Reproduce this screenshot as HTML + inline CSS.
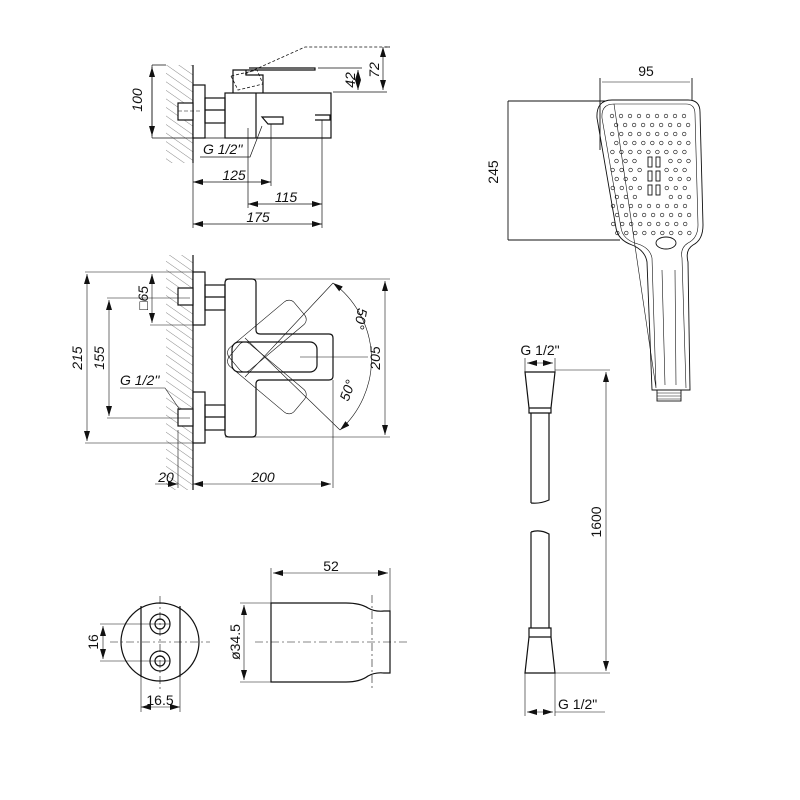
<!DOCTYPE html>
<html><head><meta charset="utf-8"><style>
html,body{margin:0;padding:0;background:#fff}
svg{display:block}
text{font-family:"Liberation Sans",sans-serif;fill:#111}
.it{font-style:italic}
</style></head><body>
<svg id="s" width="800" height="800" viewBox="0 0 800 800" xmlns="http://www.w3.org/2000/svg">
<defs>
<pattern id="h" patternUnits="userSpaceOnUse" width="7" height="7" patternTransform="rotate(-55)">
<line x1="0" y1="0" x2="0" y2="7" stroke="#555" stroke-width="0.7"/></pattern>
<marker id="a" markerWidth="10" markerHeight="6" refX="10" refY="3" orient="auto-start-reverse" markerUnits="userSpaceOnUse"><path d="M0,0 L10,3 L0,6z" fill="#111"/></marker>
</defs>
<g fill="none" stroke="#111" stroke-width="1.2">
<!-- TOP VIEW -->
<rect x="166" y="65" width="27" height="98" fill="url(#h)" stroke="none"/>
<line x1="193" y1="65" x2="193" y2="163"/>
<rect x="193" y="85" width="12" height="53" fill="#fff"/>
<rect x="178" y="103" width="15" height="17" fill="#fff"/>
<line x1="178" y1="111" x2="200" y2="111" stroke-dasharray="4 2" stroke-width="0.6"/>
<rect x="205" y="98" width="20" height="25"/>
<line x1="205" y1="110" x2="225" y2="110"/>
<rect x="225" y="93" width="106" height="45"/>
<line x1="256" y1="93" x2="256" y2="138"/>
<path d="M233,93 V70 H315 V68 H258 L249,68 M246,70 V75 H263 V93"/>
<path d="M231,76 L238,90 L263,84 L257,70 Z M245,74 L305,47 L390,47" stroke-dasharray="3 2" stroke-width="0.8"/>
<path d="M262,117 H283 V124 H268 Z M315,115 H330 V120 H315"/>
<g stroke-width="0.7">
<path d="M152,65 H166 M152,138 H225 M152,65 V138"/>
<line x1="152" y1="67" x2="152" y2="136" marker-start="url(#a)" marker-end="url(#a)"/>
<path d="M318,68 H362 M333,92 H387 M390,47 H385"/>
<line x1="358" y1="70" x2="358" y2="90" marker-start="url(#a)" marker-end="url(#a)"/>
<line x1="383" y1="47" x2="383" y2="90" marker-start="url(#a)" marker-end="url(#a)"/>
<path d="M193,138 V228 M271,124 V186 M248,128 V208 M322,120 V228"/>
<line x1="193" y1="182" x2="271" y2="182" marker-start="url(#a)" marker-end="url(#a)"/>
<line x1="248" y1="204" x2="322" y2="204" marker-start="url(#a)" marker-end="url(#a)"/>
<line x1="193" y1="224" x2="322" y2="224" marker-start="url(#a)" marker-end="url(#a)"/>
<path d="M200,157 H250 L262,126"/>
</g>
<!-- FRONT VIEW -->
<rect x="166" y="255" width="27" height="235" fill="url(#h)" stroke="none"/>
<line x1="193" y1="255" x2="193" y2="490"/>
<rect x="193" y="272" width="12" height="53" fill="#fff"/>
<rect x="178" y="288" width="15" height="17" fill="#fff"/>
<rect x="205" y="285" width="20" height="25"/><line x1="205" y1="297" x2="225" y2="297"/>
<rect x="193" y="392" width="12" height="51" fill="#fff"/>
<rect x="178" y="409" width="15" height="17" fill="#fff"/>
<rect x="205" y="405" width="20" height="25"/><line x1="205" y1="417" x2="225" y2="417"/>
<path d="M229,279 H252 Q256,279 256,283 V330 Q256,334 260,334 H329 Q333,334 333,338 V376 Q333,380 329,380 H260 Q256,380 256,384 V433 Q256,437 252,437 H229 Q225,437 225,433 V283 Q225,279 229,279 Z"/>
<rect x="232" y="342" width="85" height="30" rx="7"/>
<g stroke-width="0.6">
<rect x="232" y="342" width="85" height="30" rx="7" transform="rotate(-40 242 357)"/>
<rect x="232" y="342" width="85" height="30" rx="7" transform="rotate(40 242 357)"/>
<path d="M333,283 L245,377 M340,430 L245,338 M300,357 H368"/>
<path d="M333,283 A95,95 0 0 1 340,430" marker-start="url(#a)" marker-end="url(#a)"/>
<path d="M150,272 H205 M150,325 H205 M85,272 H193 M85,443 H205 M107,298 H190 M107,418 H190 M225,279 H390 M225,437 H390"/>
<line x1="87" y1="274" x2="87" y2="441" marker-start="url(#a)" marker-end="url(#a)"/>
<line x1="109" y1="300" x2="109" y2="416" marker-start="url(#a)" marker-end="url(#a)"/>
<line x1="152" y1="274" x2="152" y2="323" marker-start="url(#a)" marker-end="url(#a)"/>
<line x1="385" y1="281" x2="385" y2="435" marker-start="url(#a)" marker-end="url(#a)"/>
<path d="M178,430 V488 M333,380 V488 M120,388 H165 L180,410"/>
<line x1="155" y1="484" x2="178" y2="484" marker-end="url(#a)"/>
<line x1="193" y1="484" x2="331" y2="484" marker-start="url(#a)" marker-end="url(#a)"/>
</g>
<!-- HOLDER -->
<circle cx="160" cy="642" r="39"/>
<path d="M141,606 V677 M180,606 V677"/>
<circle cx="160" cy="624" r="10"/><circle cx="160" cy="624" r="5"/>
<circle cx="160" cy="661" r="10"/><circle cx="160" cy="661" r="5"/>
<g stroke-width="0.6">
<path d="M110,642 H210 M160,596 V690" stroke-dasharray="8 3 2 3"/>
<path d="M100,624 H170 M100,661 H170 M141,677 V712 M180,677 V712"/>
<line x1="103" y1="626" x2="103" y2="659" marker-start="url(#a)" marker-end="url(#a)"/>
<line x1="141" y1="707" x2="180" y2="707" marker-start="url(#a)" marker-end="url(#a)"/>
</g>
<path d="M271,603 V682 H346 Q360,682 368,676 Q375,672 384,673 H390 V611 H384 Q375,612 368,608 Q360,603 346,603 Z"/>
<g stroke-width="0.6">
<path d="M255,642 H410 M372,595 V690" stroke-dasharray="8 3 2 3"/>
<path d="M271,568 V603 M390,568 V611 M240,603 H271 M240,682 H271"/>
<line x1="273" y1="573" x2="388" y2="573" marker-start="url(#a)" marker-end="url(#a)"/>
<line x1="244" y1="605" x2="244" y2="680" marker-start="url(#a)" marker-end="url(#a)"/>
</g>
<!-- HAND SHOWER -->
<g stroke-width="0.9">
<path d="M508,101 H605 M508,240 H620 M508,101 V240 M600,78 V150 M692,78 V100"/>
<line x1="602" y1="82" x2="690" y2="82" stroke-width="0.6"/>
<path d="M612,100 H688 Q700,100 700,112 L703,225 Q703,240 693,245 Q685,250 688,262 L690,390 H652 L647,262 Q645,250 632,245 Q618,240 616,228 L597,118 Q596,100 612,100 Z"/>
<path d="M614,104 H686 Q695,104 695,114 L698,225 Q698,238 688,243 Q680,248 682,258 L686,388 M656,388 L652,258 Q650,248 638,244 Q623,240 621,228 L602,118 Q601,104 614,104 Z" stroke-width="0.6"/>
<path d="M662,270 L665,385 M675,270 L676,385" stroke-width="0.6"/>
<ellipse cx="666" cy="243" rx="10" ry="6"/>
<rect x="657" y="390" width="24" height="11"/>
<path d="M657,393 H681 M657,396 H681 M657,399 H681" stroke-width="0.5"/>
<g id="holes" stroke-width="0.6"></g>
<rect x="648" y="157" width="4" height="10"/><rect x="656" y="157" width="4" height="10"/>
<rect x="648" y="171" width="4" height="10"/><rect x="656" y="171" width="4" height="10"/>
<rect x="648" y="185" width="4" height="10"/><rect x="656" y="185" width="4" height="10"/>
</g>
<!-- HOSE -->
<path d="M525,372 H555 L551,408 H529 Z M529,408 H551 V413 H529 Z M531,413 V503 M549,413 V500 Q540,504 531,503"/>
<path d="M531,532 Q540,529 549,534 V628 M531,532 V628 M529,628 H551 V637 H529 Z M529,637 H551 L555,673 H525 Z"/>
<g stroke-width="0.6">
<path d="M555,370 H610 M555,673 H610 M525,372 V358 M555,372 V358 M525,673 V716 M555,673 V716 M555,712 H605"/>
<line x1="606" y1="372" x2="606" y2="671" marker-start="url(#a)" marker-end="url(#a)"/>
<line x1="527" y1="363" x2="553" y2="363" marker-start="url(#a)" marker-end="url(#a)"/>
<line x1="527" y1="712" x2="553" y2="712" marker-start="url(#a)" marker-end="url(#a)"/>
</g>
</g>
<g font-size="14">
<text x="142" y="100" class="it" transform="rotate(-90 142 100)" text-anchor="middle">100</text>
<text x="355" y="80" class="it" transform="rotate(-90 355 80)" text-anchor="middle">42</text>
<text x="379" y="70" class="it" transform="rotate(-90 379 70)" text-anchor="middle">72</text>
<text x="203" y="154" class="it">G 1/2''</text>
<text x="234" y="180" class="it" text-anchor="middle">125</text>
<text x="286" y="202" class="it" text-anchor="middle">115</text>
<text x="258" y="222" class="it" text-anchor="middle">175</text>
<text x="82" y="358" class="it" transform="rotate(-90 82 358)" text-anchor="middle">215</text>
<text x="104" y="358" class="it" transform="rotate(-90 104 358)" text-anchor="middle">155</text>
<text x="148" y="298" class="it" transform="rotate(-90 148 298)" text-anchor="middle">□65</text>
<text x="120" y="385" class="it">G 1/2''</text>
<text x="380" y="358" class="it" transform="rotate(-90 380 358)" text-anchor="middle">205</text>
<text x="356" y="318" class="it" transform="rotate(100 356 318)" text-anchor="middle">50°</text>
<text x="352" y="392" class="it" transform="rotate(-70 352 392)" text-anchor="middle">50°</text>
<text x="166" y="482" class="it" text-anchor="middle">20</text>
<text x="263" y="482" class="it" text-anchor="middle">200</text>
<text x="98" y="642" transform="rotate(-90 98 642)" text-anchor="middle">16</text>
<text x="160" y="705" text-anchor="middle">16.5</text>
<text x="240" y="642" transform="rotate(-90 240 642)" text-anchor="middle">ø34.5</text>
<text x="331" y="571" text-anchor="middle">52</text>
<text x="646" y="76" text-anchor="middle">95</text>
<text x="498" y="172" transform="rotate(-90 498 172)" text-anchor="middle">245</text>
<text x="540" y="355" text-anchor="middle">G 1/2"</text>
<text x="601" y="522" transform="rotate(-90 601 522)" text-anchor="middle">1600</text>
<text x="558" y="709">G 1/2"</text>
</g>
</svg>
<script>
(function(){var g=document.getElementById('holes'),ns='http://www.w3.org/2000/svg';
for(var r=0;r<14;r++){for(var c=0;c<9;c++){var y=116+r*9;var x=612+c*9+(r%2?4:0)+(r*0.1);
if(x>692)continue;if(x>643&&x<665&&y>152&&y<198)continue;
var e=document.createElementNS(ns,'circle');e.setAttribute('cx',x);e.setAttribute('cy',y);e.setAttribute('r',1.8);g.appendChild(e);}}})();
</script>
</body></html>
